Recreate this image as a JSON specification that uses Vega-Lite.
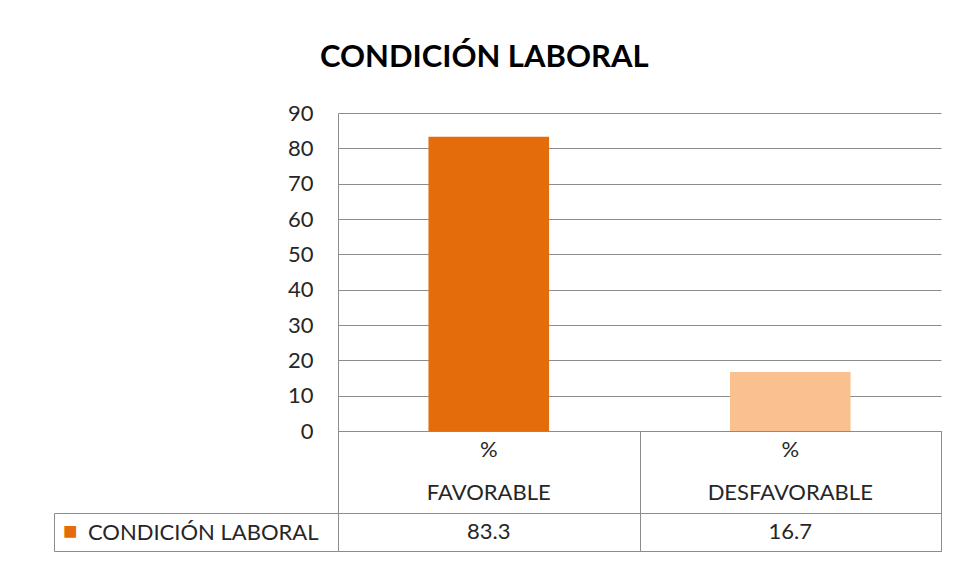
{
  "$schema": "https://vega.github.io/schema/vega-lite/v6.json",
  "padding": {"left": 53, "top": 42, "right": 14, "bottom": 10},
  "background": "#ffffff",
  "bounds": "flush",
  "spacing": 0,
  "title": {
    "text": "CONDICIÓN LABORAL",
    "font": "Lato",
    "fontSize": 31,
    "fontWeight": "bold",
    "color": "#000000",
    "anchor": "middle",
    "frame": "bounds",
    "offset": 28,
    "dx": -13
  },
  "datasets": {
    "main": [
      {"categoria": "% FAVORABLE", "serie": "CONDICIÓN LABORAL", "valor": 83.3},
      {"categoria": "% DESFAVORABLE", "serie": "CONDICIÓN LABORAL", "valor": 16.7}
    ]
  },
  "config": {
    "view": {"stroke": null},
    "axis": {"labelFont": "Lato", "titleFont": "Lato"}
  },
  "vconcat": [
    {
      "width": 603,
      "height": 318,
      "data": {"name": "main"},
      "mark": {"type": "bar", "width": {"band": 0.4}},
      "encoding": {
        "x": {
          "field": "categoria",
          "type": "nominal",
          "sort": null,
          "scale": {"paddingInner": 0, "paddingOuter": 0},
          "axis": {"title": null, "labels": false, "ticks": false, "domain": true, "domainColor": "#8c8c8c", "grid": false}
        },
        "y": {
          "field": "valor",
          "type": "quantitative",
          "scale": {"domain": [0, 90], "nice": false},
          "axis": {
            "title": null,
            "values": [0, 10, 20, 30, 40, 50, 60, 70, 80, 90],
            "ticks": false,
            "domain": true,
            "domainColor": "#8c8c8c",
            "grid": true,
            "gridColor": "#8c8c8c",
            "labelFontSize": 22,
            "labelColor": "#262626",
            "labelPadding": 25
          }
        },
        "color": {
          "field": "categoria",
          "type": "nominal",
          "scale": {"domain": ["% FAVORABLE", "% DESFAVORABLE"], "range": ["#E46C0A", "#FAC090"]},
          "legend": null
        }
      }
    },
    {
      "width": 603,
      "height": 82,
      "view": {"stroke": "#8c8c8c"},
      "data": {"name": "main"},
      "mark": {"type": "text", "lineBreak": " ", "lineHeight": 43, "font": "Lato", "fontSize": 22, "color": "#262626", "baseline": "middle", "dy": -22},
      "encoding": {
        "x": {
          "field": "categoria",
          "type": "nominal",
          "sort": null,
          "scale": {"paddingInner": 0, "paddingOuter": 0},
          "axis": {"title": null, "labels": false, "ticks": false, "domain": false, "grid": true, "tickBand": "extent", "gridColor": "#8c8c8c", "gridOpacity": 1}
        },
        "text": {"field": "categoria"}
      }
    },
    {
      "width": 603,
      "height": 38,
      "view": {"stroke": "#8c8c8c"},
      "data": {"name": "main"},
      "layer": [
        {
          "mark": {"type": "text", "font": "Lato", "fontSize": 22, "color": "#262626", "baseline": "middle"},
          "encoding": {
            "x": {
              "field": "categoria",
              "type": "nominal",
              "sort": null,
              "scale": {"paddingInner": 0, "paddingOuter": 0},
              "axis": {"title": null, "labels": false, "ticks": false, "domain": false, "grid": true, "tickBand": "extent", "gridColor": "#8c8c8c", "gridOpacity": 1}
            },
            "y": {
              "field": "serie",
              "type": "nominal",
              "scale": {"paddingInner": 0, "paddingOuter": 0},
              "axis": {
                "title": null,
                "orient": "left",
                "domain": false,
                "ticks": true,
                "tickBand": "extent",
                "tickSize": 284,
                "tickColor": "#8c8c8c",
                "grid": false,
                "labelPadding": -264,
                "labelFontSize": 22,
                "labelColor": "#262626",
                "labelLimit": 0
              }
            },
            "text": {"field": "valor", "type": "quantitative", "format": ".1f"}
          }
        },
        {
          "mark": {"type": "text", "opacity": 0},
          "encoding": {
            "x": {"field": "categoria", "type": "nominal", "sort": null},
            "y": {
              "field": "serie",
              "type": "nominal",
              "axis": {
                "title": null,
                "orient": "left",
                "offset": 284,
                "domain": true,
                "domainColor": "#8c8c8c",
                "ticks": false,
                "grid": false,
                "labelExpr": "'■'",
                "labelColor": "#E46C0A",
                "labelFontSize": 24,
                "labelPadding": -23
              }
            },
            "text": {"field": "valor", "type": "quantitative"}
          }
        }
      ],
      "resolve": {"axis": {"y": "independent"}}
    }
  ]
}
